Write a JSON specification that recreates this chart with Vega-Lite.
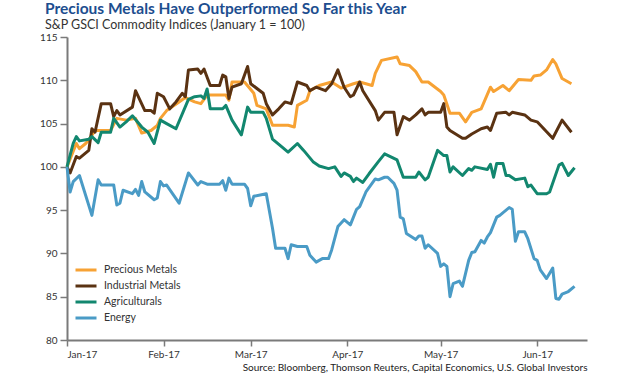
{
  "$schema": "https://vega.github.io/schema/vega-lite/v6.json",
  "width": 520,
  "height": 303,
  "autosize": {"type": "none"},
  "padding": {"left": 67, "top": 37, "right": 43, "bottom": 36},
  "background": "white",
  "title": {
    "text": "Precious Metals Have Outperformed So Far this Year",
    "subtitle": "S&P GSCI Commodity Indices (January 1 = 100)",
    "anchor": "start",
    "frame": "group",
    "dx": -22,
    "offset": 1,
    "font": "Lato",
    "fontSize": 15.5,
    "fontWeight": "bold",
    "color": "#1d4e8f",
    "subtitleFont": "Lato",
    "subtitleFontSize": 12.5,
    "subtitleColor": "#333333",
    "subtitlePadding": 1
  },
  "config": {
    "view": {"stroke": null},
    "axis": {
      "grid": false,
      "domainColor": "#7a7a7a",
      "domainWidth": 2,
      "tickColor": "#7a7a7a",
      "tickWidth": 1.5,
      "tickSize": 7,
      "labelFont": "Lato",
      "labelFontSize": 10,
      "labelColor": "#333333",
      "labelPadding": 3
    }
  },
  "data": {
    "values": [
      {"series": "Precious Metals", "date": "2017/01/01", "value": 100},
      {"series": "Precious Metals", "date": "2017/01/04", "value": 102.7},
      {"series": "Precious Metals", "date": "2017/01/05", "value": 102.1},
      {"series": "Precious Metals", "date": "2017/01/07", "value": 102.7},
      {"series": "Precious Metals", "date": "2017/01/08", "value": 103.1},
      {"series": "Precious Metals", "date": "2017/01/10", "value": 104.2},
      {"series": "Precious Metals", "date": "2017/01/12", "value": 104.2},
      {"series": "Precious Metals", "date": "2017/01/15", "value": 104.2},
      {"series": "Precious Metals", "date": "2017/01/17", "value": 105.6},
      {"series": "Precious Metals", "date": "2017/01/20", "value": 105.4},
      {"series": "Precious Metals", "date": "2017/01/23", "value": 105.6},
      {"series": "Precious Metals", "date": "2017/01/25", "value": 103.9},
      {"series": "Precious Metals", "date": "2017/01/28", "value": 104.2},
      {"series": "Precious Metals", "date": "2017/01/30", "value": 104.8},
      {"series": "Precious Metals", "date": "2017/01/31", "value": 105.6},
      {"series": "Precious Metals", "date": "2017/02/02", "value": 106.5},
      {"series": "Precious Metals", "date": "2017/02/06", "value": 107.5},
      {"series": "Precious Metals", "date": "2017/02/08", "value": 108.0},
      {"series": "Precious Metals", "date": "2017/02/11", "value": 107.5},
      {"series": "Precious Metals", "date": "2017/02/13", "value": 107.3},
      {"series": "Precious Metals", "date": "2017/02/15", "value": 108.3},
      {"series": "Precious Metals", "date": "2017/02/21", "value": 108.3},
      {"series": "Precious Metals", "date": "2017/02/22", "value": 107.7},
      {"series": "Precious Metals", "date": "2017/02/23", "value": 109.8},
      {"series": "Precious Metals", "date": "2017/02/27", "value": 109.8},
      {"series": "Precious Metals", "date": "2017/03/02", "value": 108.5},
      {"series": "Precious Metals", "date": "2017/03/03", "value": 107.1},
      {"series": "Precious Metals", "date": "2017/03/06", "value": 106.7},
      {"series": "Precious Metals", "date": "2017/03/08", "value": 104.8},
      {"series": "Precious Metals", "date": "2017/03/13", "value": 104.8},
      {"series": "Precious Metals", "date": "2017/03/15", "value": 104.6},
      {"series": "Precious Metals", "date": "2017/03/16", "value": 107.1},
      {"series": "Precious Metals", "date": "2017/03/19", "value": 107.7},
      {"series": "Precious Metals", "date": "2017/03/20", "value": 108.8},
      {"series": "Precious Metals", "date": "2017/03/23", "value": 109.4},
      {"series": "Precious Metals", "date": "2017/03/27", "value": 109.8},
      {"series": "Precious Metals", "date": "2017/03/30", "value": 109.1},
      {"series": "Precious Metals", "date": "2017/04/03", "value": 109.6},
      {"series": "Precious Metals", "date": "2017/04/05", "value": 109.8},
      {"series": "Precious Metals", "date": "2017/04/09", "value": 109.4},
      {"series": "Precious Metals", "date": "2017/04/10", "value": 110.8},
      {"series": "Precious Metals", "date": "2017/04/12", "value": 112.3},
      {"series": "Precious Metals", "date": "2017/04/17", "value": 112.7},
      {"series": "Precious Metals", "date": "2017/04/18", "value": 111.9},
      {"series": "Precious Metals", "date": "2017/04/21", "value": 111.7},
      {"series": "Precious Metals", "date": "2017/04/23", "value": 111.0},
      {"series": "Precious Metals", "date": "2017/04/25", "value": 109.8},
      {"series": "Precious Metals", "date": "2017/04/27", "value": 109.8},
      {"series": "Precious Metals", "date": "2017/05/01", "value": 108.7},
      {"series": "Precious Metals", "date": "2017/05/02", "value": 108.3},
      {"series": "Precious Metals", "date": "2017/05/04", "value": 106.2},
      {"series": "Precious Metals", "date": "2017/05/07", "value": 106.2},
      {"series": "Precious Metals", "date": "2017/05/09", "value": 105.2},
      {"series": "Precious Metals", "date": "2017/05/11", "value": 106.3},
      {"series": "Precious Metals", "date": "2017/05/14", "value": 106.7},
      {"series": "Precious Metals", "date": "2017/05/17", "value": 109.2},
      {"series": "Precious Metals", "date": "2017/05/18", "value": 108.7},
      {"series": "Precious Metals", "date": "2017/05/21", "value": 109.4},
      {"series": "Precious Metals", "date": "2017/05/23", "value": 108.8},
      {"series": "Precious Metals", "date": "2017/05/26", "value": 110.1},
      {"series": "Precious Metals", "date": "2017/05/30", "value": 110.0},
      {"series": "Precious Metals", "date": "2017/05/31", "value": 110.5},
      {"series": "Precious Metals", "date": "2017/06/02", "value": 110.6},
      {"series": "Precious Metals", "date": "2017/06/04", "value": 111.2},
      {"series": "Precious Metals", "date": "2017/06/06", "value": 112.4},
      {"series": "Precious Metals", "date": "2017/06/07", "value": 111.9},
      {"series": "Precious Metals", "date": "2017/06/09", "value": 110.2},
      {"series": "Precious Metals", "date": "2017/06/12", "value": 109.6},

      {"series": "Industrial Metals", "date": "2017/01/01", "value": 100},
      {"series": "Industrial Metals", "date": "2017/01/02", "value": 99.3},
      {"series": "Industrial Metals", "date": "2017/01/04", "value": 101.2},
      {"series": "Industrial Metals", "date": "2017/01/05", "value": 101.0},
      {"series": "Industrial Metals", "date": "2017/01/08", "value": 101.9},
      {"series": "Industrial Metals", "date": "2017/01/09", "value": 104.4},
      {"series": "Industrial Metals", "date": "2017/01/10", "value": 104.0},
      {"series": "Industrial Metals", "date": "2017/01/12", "value": 107.3},
      {"series": "Industrial Metals", "date": "2017/01/15", "value": 107.3},
      {"series": "Industrial Metals", "date": "2017/01/16", "value": 105.8},
      {"series": "Industrial Metals", "date": "2017/01/17", "value": 106.5},
      {"series": "Industrial Metals", "date": "2017/01/18", "value": 106.0},
      {"series": "Industrial Metals", "date": "2017/01/22", "value": 106.9},
      {"series": "Industrial Metals", "date": "2017/01/23", "value": 108.8},
      {"series": "Industrial Metals", "date": "2017/01/26", "value": 106.5},
      {"series": "Industrial Metals", "date": "2017/01/28", "value": 106.5},
      {"series": "Industrial Metals", "date": "2017/01/29", "value": 106.2},
      {"series": "Industrial Metals", "date": "2017/01/30", "value": 108.5},
      {"series": "Industrial Metals", "date": "2017/02/01", "value": 108.1},
      {"series": "Industrial Metals", "date": "2017/02/03", "value": 106.7},
      {"series": "Industrial Metals", "date": "2017/02/05", "value": 107.5},
      {"series": "Industrial Metals", "date": "2017/02/07", "value": 108.5},
      {"series": "Industrial Metals", "date": "2017/02/08", "value": 108.1},
      {"series": "Industrial Metals", "date": "2017/02/09", "value": 111.2},
      {"series": "Industrial Metals", "date": "2017/02/12", "value": 111.3},
      {"series": "Industrial Metals", "date": "2017/02/13", "value": 110.8},
      {"series": "Industrial Metals", "date": "2017/02/14", "value": 111.3},
      {"series": "Industrial Metals", "date": "2017/02/16", "value": 109.4},
      {"series": "Industrial Metals", "date": "2017/02/19", "value": 109.4},
      {"series": "Industrial Metals", "date": "2017/02/20", "value": 110.6},
      {"series": "Industrial Metals", "date": "2017/02/21", "value": 110.4},
      {"series": "Industrial Metals", "date": "2017/02/22", "value": 107.9},
      {"series": "Industrial Metals", "date": "2017/02/23", "value": 109.2},
      {"series": "Industrial Metals", "date": "2017/02/26", "value": 109.6},
      {"series": "Industrial Metals", "date": "2017/02/28", "value": 111.6},
      {"series": "Industrial Metals", "date": "2017/03/01", "value": 109.6},
      {"series": "Industrial Metals", "date": "2017/03/05", "value": 108.5},
      {"series": "Industrial Metals", "date": "2017/03/06", "value": 107.3},
      {"series": "Industrial Metals", "date": "2017/03/08", "value": 106.0},
      {"series": "Industrial Metals", "date": "2017/03/10", "value": 106.7},
      {"series": "Industrial Metals", "date": "2017/03/12", "value": 107.5},
      {"series": "Industrial Metals", "date": "2017/03/14", "value": 107.3},
      {"series": "Industrial Metals", "date": "2017/03/16", "value": 109.8},
      {"series": "Industrial Metals", "date": "2017/03/19", "value": 109.4},
      {"series": "Industrial Metals", "date": "2017/03/20", "value": 108.8},
      {"series": "Industrial Metals", "date": "2017/03/22", "value": 109.2},
      {"series": "Industrial Metals", "date": "2017/03/25", "value": 108.8},
      {"series": "Industrial Metals", "date": "2017/03/27", "value": 109.6},
      {"series": "Industrial Metals", "date": "2017/03/29", "value": 111.2},
      {"series": "Industrial Metals", "date": "2017/03/31", "value": 109.2},
      {"series": "Industrial Metals", "date": "2017/04/02", "value": 108.1},
      {"series": "Industrial Metals", "date": "2017/04/03", "value": 108.3},
      {"series": "Industrial Metals", "date": "2017/04/05", "value": 109.8},
      {"series": "Industrial Metals", "date": "2017/04/06", "value": 108.8},
      {"series": "Industrial Metals", "date": "2017/04/10", "value": 106.5},
      {"series": "Industrial Metals", "date": "2017/04/11", "value": 105.4},
      {"series": "Industrial Metals", "date": "2017/04/13", "value": 106.3},
      {"series": "Industrial Metals", "date": "2017/04/16", "value": 106.3},
      {"series": "Industrial Metals", "date": "2017/04/17", "value": 103.7},
      {"series": "Industrial Metals", "date": "2017/04/19", "value": 105.8},
      {"series": "Industrial Metals", "date": "2017/04/21", "value": 105.4},
      {"series": "Industrial Metals", "date": "2017/04/23", "value": 106.0},
      {"series": "Industrial Metals", "date": "2017/04/25", "value": 106.7},
      {"series": "Industrial Metals", "date": "2017/04/26", "value": 106.0},
      {"series": "Industrial Metals", "date": "2017/04/27", "value": 106.3},
      {"series": "Industrial Metals", "date": "2017/05/01", "value": 106.3},
      {"series": "Industrial Metals", "date": "2017/05/02", "value": 107.3},
      {"series": "Industrial Metals", "date": "2017/05/03", "value": 104.6},
      {"series": "Industrial Metals", "date": "2017/05/04", "value": 104.2},
      {"series": "Industrial Metals", "date": "2017/05/08", "value": 103.3},
      {"series": "Industrial Metals", "date": "2017/05/09", "value": 103.3},
      {"series": "Industrial Metals", "date": "2017/05/11", "value": 103.8},
      {"series": "Industrial Metals", "date": "2017/05/14", "value": 104.4},
      {"series": "Industrial Metals", "date": "2017/05/16", "value": 104.6},
      {"series": "Industrial Metals", "date": "2017/05/17", "value": 104.2},
      {"series": "Industrial Metals", "date": "2017/05/19", "value": 106.2},
      {"series": "Industrial Metals", "date": "2017/05/22", "value": 106.3},
      {"series": "Industrial Metals", "date": "2017/05/23", "value": 106.0},
      {"series": "Industrial Metals", "date": "2017/05/24", "value": 106.3},
      {"series": "Industrial Metals", "date": "2017/05/28", "value": 106.0},
      {"series": "Industrial Metals", "date": "2017/05/30", "value": 105.4},
      {"series": "Industrial Metals", "date": "2017/06/01", "value": 105.2},
      {"series": "Industrial Metals", "date": "2017/06/06", "value": 103.3},
      {"series": "Industrial Metals", "date": "2017/06/09", "value": 105.4},
      {"series": "Industrial Metals", "date": "2017/06/12", "value": 104.0},

      {"series": "Agriculturals", "date": "2017/01/01", "value": 100},
      {"series": "Agriculturals", "date": "2017/01/03", "value": 102.7},
      {"series": "Agriculturals", "date": "2017/01/04", "value": 103.5},
      {"series": "Agriculturals", "date": "2017/01/05", "value": 103.0},
      {"series": "Agriculturals", "date": "2017/01/08", "value": 103.2},
      {"series": "Agriculturals", "date": "2017/01/09", "value": 103.5},
      {"series": "Agriculturals", "date": "2017/01/11", "value": 102.8},
      {"series": "Agriculturals", "date": "2017/01/12", "value": 104.0},
      {"series": "Agriculturals", "date": "2017/01/15", "value": 104.0},
      {"series": "Agriculturals", "date": "2017/01/16", "value": 105.6},
      {"series": "Agriculturals", "date": "2017/01/18", "value": 104.6},
      {"series": "Agriculturals", "date": "2017/01/20", "value": 105.2},
      {"series": "Agriculturals", "date": "2017/01/22", "value": 105.9},
      {"series": "Agriculturals", "date": "2017/01/25", "value": 104.6},
      {"series": "Agriculturals", "date": "2017/01/27", "value": 104.0},
      {"series": "Agriculturals", "date": "2017/01/29", "value": 102.7},
      {"series": "Agriculturals", "date": "2017/01/31", "value": 105.4},
      {"series": "Agriculturals", "date": "2017/02/02", "value": 105.0},
      {"series": "Agriculturals", "date": "2017/02/05", "value": 104.4},
      {"series": "Agriculturals", "date": "2017/02/09", "value": 107.8},
      {"series": "Agriculturals", "date": "2017/02/11", "value": 108.1},
      {"series": "Agriculturals", "date": "2017/02/13", "value": 108.2},
      {"series": "Agriculturals", "date": "2017/02/14", "value": 107.9},
      {"series": "Agriculturals", "date": "2017/02/15", "value": 109.0},
      {"series": "Agriculturals", "date": "2017/02/16", "value": 106.7},
      {"series": "Agriculturals", "date": "2017/02/20", "value": 106.7},
      {"series": "Agriculturals", "date": "2017/02/21", "value": 107.1},
      {"series": "Agriculturals", "date": "2017/02/23", "value": 105.4},
      {"series": "Agriculturals", "date": "2017/02/26", "value": 103.7},
      {"series": "Agriculturals", "date": "2017/02/28", "value": 106.9},
      {"series": "Agriculturals", "date": "2017/03/01", "value": 106.3},
      {"series": "Agriculturals", "date": "2017/03/05", "value": 106.3},
      {"series": "Agriculturals", "date": "2017/03/06", "value": 105.6},
      {"series": "Agriculturals", "date": "2017/03/08", "value": 103.2},
      {"series": "Agriculturals", "date": "2017/03/11", "value": 102.3},
      {"series": "Agriculturals", "date": "2017/03/13", "value": 101.7},
      {"series": "Agriculturals", "date": "2017/03/16", "value": 102.7},
      {"series": "Agriculturals", "date": "2017/03/18", "value": 101.9},
      {"series": "Agriculturals", "date": "2017/03/21", "value": 100.6},
      {"series": "Agriculturals", "date": "2017/03/23", "value": 100.1},
      {"series": "Agriculturals", "date": "2017/03/26", "value": 99.8},
      {"series": "Agriculturals", "date": "2017/03/28", "value": 100.0},
      {"series": "Agriculturals", "date": "2017/03/30", "value": 98.9},
      {"series": "Agriculturals", "date": "2017/03/31", "value": 99.3},
      {"series": "Agriculturals", "date": "2017/04/02", "value": 98.9},
      {"series": "Agriculturals", "date": "2017/04/03", "value": 98.3},
      {"series": "Agriculturals", "date": "2017/04/04", "value": 98.7},
      {"series": "Agriculturals", "date": "2017/04/06", "value": 98.2},
      {"series": "Agriculturals", "date": "2017/04/08", "value": 99.2},
      {"series": "Agriculturals", "date": "2017/04/11", "value": 100.6},
      {"series": "Agriculturals", "date": "2017/04/13", "value": 101.5},
      {"series": "Agriculturals", "date": "2017/04/17", "value": 100.8},
      {"series": "Agriculturals", "date": "2017/04/19", "value": 98.8},
      {"series": "Agriculturals", "date": "2017/04/23", "value": 98.8},
      {"series": "Agriculturals", "date": "2017/04/24", "value": 99.4},
      {"series": "Agriculturals", "date": "2017/04/26", "value": 98.5},
      {"series": "Agriculturals", "date": "2017/04/27", "value": 98.8},
      {"series": "Agriculturals", "date": "2017/04/30", "value": 101.9},
      {"series": "Agriculturals", "date": "2017/05/02", "value": 101.3},
      {"series": "Agriculturals", "date": "2017/05/03", "value": 101.3},
      {"series": "Agriculturals", "date": "2017/05/04", "value": 99.4},
      {"series": "Agriculturals", "date": "2017/05/05", "value": 100.0},
      {"series": "Agriculturals", "date": "2017/05/08", "value": 99.0},
      {"series": "Agriculturals", "date": "2017/05/10", "value": 99.8},
      {"series": "Agriculturals", "date": "2017/05/11", "value": 99.6},
      {"series": "Agriculturals", "date": "2017/05/12", "value": 100.0},
      {"series": "Agriculturals", "date": "2017/05/16", "value": 99.7},
      {"series": "Agriculturals", "date": "2017/05/17", "value": 100.3},
      {"series": "Agriculturals", "date": "2017/05/18", "value": 98.8},
      {"series": "Agriculturals", "date": "2017/05/19", "value": 100.4},
      {"series": "Agriculturals", "date": "2017/05/21", "value": 100.4},
      {"series": "Agriculturals", "date": "2017/05/22", "value": 99.0},
      {"series": "Agriculturals", "date": "2017/05/23", "value": 99.0},
      {"series": "Agriculturals", "date": "2017/05/25", "value": 98.5},
      {"series": "Agriculturals", "date": "2017/05/28", "value": 98.7},
      {"series": "Agriculturals", "date": "2017/05/29", "value": 97.7},
      {"series": "Agriculturals", "date": "2017/05/30", "value": 97.9},
      {"series": "Agriculturals", "date": "2017/06/01", "value": 96.9},
      {"series": "Agriculturals", "date": "2017/06/04", "value": 96.9},
      {"series": "Agriculturals", "date": "2017/06/05", "value": 97.1},
      {"series": "Agriculturals", "date": "2017/06/08", "value": 100.2},
      {"series": "Agriculturals", "date": "2017/06/09", "value": 100.4},
      {"series": "Agriculturals", "date": "2017/06/11", "value": 99.0},
      {"series": "Agriculturals", "date": "2017/06/13", "value": 99.9},

      {"series": "Energy", "date": "2017/01/01", "value": 100},
      {"series": "Energy", "date": "2017/01/02", "value": 97.1},
      {"series": "Energy", "date": "2017/01/03", "value": 98.3},
      {"series": "Energy", "date": "2017/01/05", "value": 99.0},
      {"series": "Energy", "date": "2017/01/09", "value": 94.4},
      {"series": "Energy", "date": "2017/01/11", "value": 98.5},
      {"series": "Energy", "date": "2017/01/12", "value": 97.9},
      {"series": "Energy", "date": "2017/01/16", "value": 97.9},
      {"series": "Energy", "date": "2017/01/17", "value": 95.6},
      {"series": "Energy", "date": "2017/01/18", "value": 95.8},
      {"series": "Energy", "date": "2017/01/19", "value": 97.3},
      {"series": "Energy", "date": "2017/01/22", "value": 96.9},
      {"series": "Energy", "date": "2017/01/23", "value": 97.4},
      {"series": "Energy", "date": "2017/01/24", "value": 96.7},
      {"series": "Energy", "date": "2017/01/25", "value": 98.3},
      {"series": "Energy", "date": "2017/01/26", "value": 97.1},
      {"series": "Energy", "date": "2017/01/29", "value": 96.2},
      {"series": "Energy", "date": "2017/01/30", "value": 96.4},
      {"series": "Energy", "date": "2017/01/31", "value": 98.3},
      {"series": "Energy", "date": "2017/02/01", "value": 97.8},
      {"series": "Energy", "date": "2017/02/02", "value": 97.9},
      {"series": "Energy", "date": "2017/02/06", "value": 95.8},
      {"series": "Energy", "date": "2017/02/09", "value": 99.3},
      {"series": "Energy", "date": "2017/02/12", "value": 97.9},
      {"series": "Energy", "date": "2017/02/13", "value": 98.3},
      {"series": "Energy", "date": "2017/02/15", "value": 98.0},
      {"series": "Energy", "date": "2017/02/19", "value": 98.0},
      {"series": "Energy", "date": "2017/02/20", "value": 98.4},
      {"series": "Energy", "date": "2017/02/21", "value": 97.3},
      {"series": "Energy", "date": "2017/02/22", "value": 98.7},
      {"series": "Energy", "date": "2017/02/23", "value": 98.0},
      {"series": "Energy", "date": "2017/02/27", "value": 98.0},
      {"series": "Energy", "date": "2017/02/28", "value": 97.5},
      {"series": "Energy", "date": "2017/03/01", "value": 95.5},
      {"series": "Energy", "date": "2017/03/02", "value": 96.6},
      {"series": "Energy", "date": "2017/03/06", "value": 96.9},
      {"series": "Energy", "date": "2017/03/08", "value": 92.9},
      {"series": "Energy", "date": "2017/03/09", "value": 90.6},
      {"series": "Energy", "date": "2017/03/12", "value": 90.6},
      {"series": "Energy", "date": "2017/03/13", "value": 89.4},
      {"series": "Energy", "date": "2017/03/14", "value": 91.0},
      {"series": "Energy", "date": "2017/03/16", "value": 90.8},
      {"series": "Energy", "date": "2017/03/19", "value": 90.8},
      {"series": "Energy", "date": "2017/03/20", "value": 89.8},
      {"series": "Energy", "date": "2017/03/22", "value": 89.0},
      {"series": "Energy", "date": "2017/03/24", "value": 89.4},
      {"series": "Energy", "date": "2017/03/26", "value": 89.4},
      {"series": "Energy", "date": "2017/03/27", "value": 90.4},
      {"series": "Energy", "date": "2017/03/29", "value": 93.1},
      {"series": "Energy", "date": "2017/03/31", "value": 93.9},
      {"series": "Energy", "date": "2017/04/02", "value": 93.3},
      {"series": "Energy", "date": "2017/04/04", "value": 95.1},
      {"series": "Energy", "date": "2017/04/05", "value": 95.4},
      {"series": "Energy", "date": "2017/04/07", "value": 97.1},
      {"series": "Energy", "date": "2017/04/10", "value": 98.6},
      {"series": "Energy", "date": "2017/04/11", "value": 98.5},
      {"series": "Energy", "date": "2017/04/13", "value": 98.8},
      {"series": "Energy", "date": "2017/04/14", "value": 98.8},
      {"series": "Energy", "date": "2017/04/16", "value": 98.1},
      {"series": "Energy", "date": "2017/04/17", "value": 97.3},
      {"series": "Energy", "date": "2017/04/18", "value": 94.2},
      {"series": "Energy", "date": "2017/04/19", "value": 94.0},
      {"series": "Energy", "date": "2017/04/20", "value": 92.3},
      {"series": "Energy", "date": "2017/04/23", "value": 91.6},
      {"series": "Energy", "date": "2017/04/24", "value": 92.0},
      {"series": "Energy", "date": "2017/04/25", "value": 92.0},
      {"series": "Energy", "date": "2017/04/26", "value": 90.6},
      {"series": "Energy", "date": "2017/04/27", "value": 91.0},
      {"series": "Energy", "date": "2017/04/30", "value": 90.0},
      {"series": "Energy", "date": "2017/05/01", "value": 88.5},
      {"series": "Energy", "date": "2017/05/02", "value": 88.8},
      {"series": "Energy", "date": "2017/05/03", "value": 88.5},
      {"series": "Energy", "date": "2017/05/04", "value": 85.0},
      {"series": "Energy", "date": "2017/05/05", "value": 86.5},
      {"series": "Energy", "date": "2017/05/07", "value": 86.8},
      {"series": "Energy", "date": "2017/05/08", "value": 86.2},
      {"series": "Energy", "date": "2017/05/10", "value": 89.2},
      {"series": "Energy", "date": "2017/05/11", "value": 90.1},
      {"series": "Energy", "date": "2017/05/12", "value": 90.2},
      {"series": "Energy", "date": "2017/05/14", "value": 91.5},
      {"series": "Energy", "date": "2017/05/15", "value": 91.2},
      {"series": "Energy", "date": "2017/05/16", "value": 91.9},
      {"series": "Energy", "date": "2017/05/17", "value": 92.4},
      {"series": "Energy", "date": "2017/05/19", "value": 94.2},
      {"series": "Energy", "date": "2017/05/20", "value": 94.4},
      {"series": "Energy", "date": "2017/05/23", "value": 95.3},
      {"series": "Energy", "date": "2017/05/24", "value": 95.1},
      {"series": "Energy", "date": "2017/05/25", "value": 91.4},
      {"series": "Energy", "date": "2017/05/26", "value": 92.5},
      {"series": "Energy", "date": "2017/05/28", "value": 92.5},
      {"series": "Energy", "date": "2017/05/29", "value": 91.7},
      {"series": "Energy", "date": "2017/05/31", "value": 89.4},
      {"series": "Energy", "date": "2017/06/01", "value": 89.2},
      {"series": "Energy", "date": "2017/06/02", "value": 88.1},
      {"series": "Energy", "date": "2017/06/04", "value": 87.1},
      {"series": "Energy", "date": "2017/06/06", "value": 88.3},
      {"series": "Energy", "date": "2017/06/07", "value": 84.8},
      {"series": "Energy", "date": "2017/06/08", "value": 84.7},
      {"series": "Energy", "date": "2017/06/09", "value": 85.3},
      {"series": "Energy", "date": "2017/06/11", "value": 85.6},
      {"series": "Energy", "date": "2017/06/13", "value": 86.2}
    ]
  },
  "mark": {"type": "line", "strokeWidth": 3, "strokeJoin": "round", "clip": false},
  "encoding": {
    "x": {
      "field": "date",
      "type": "temporal",
      "scale": {"domain": [{"year": 2017, "month": 1, "date": 1}, {"year": 2017, "month": 6, "date": 17}]},
      "axis": {
        "format": "%b-%y",
        "tickCount": {"interval": "month", "step": 1},
        "tickSize": 6,
        "title": "Source: Bloomberg, Thomson Reuters, Capital Economics, U.S. Global Investors",
        "titleAnchor": "end",
        "titleFont": "Lato",
        "titleFontSize": 10,
        "titleFontWeight": "normal",
        "titleColor": "#222222",
        "titlePadding": 3
      }
    },
    "y": {
      "field": "value",
      "type": "quantitative",
      "scale": {"domain": [80, 115], "nice": false, "zero": false},
      "axis": {"values": [80, 85, 90, 95, 100, 105, 110, 115], "title": null}
    },
    "color": {
      "field": "series",
      "type": "nominal",
      "scale": {
        "domain": ["Precious Metals", "Industrial Metals", "Agriculturals", "Energy"],
        "range": ["#f7a234", "#5a3212", "#12876f", "#4a9bc6"]
      },
      "legend": {
        "orient": "none",
        "legendX": 7,
        "legendY": 225,
        "title": null,
        "padding": 0,
        "symbolType": "stroke",
        "symbolSize": 441,
        "symbolStrokeWidth": 3,
        "labelFont": "Lato",
        "labelFontSize": 10.5,
        "labelColor": "#333333",
        "labelOffset": 6,
        "clipHeight": 16,
        "rowPadding": 0
      }
    }
  }
}
